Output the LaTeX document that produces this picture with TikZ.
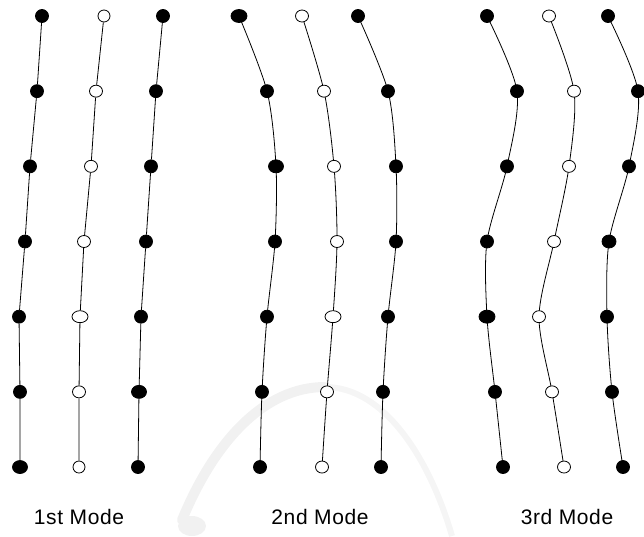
\documentclass[tikz,border=0pt]{standalone}
\usepackage{fontspec}
\setmainfont{Liberation Sans}
\usetikzlibrary{shapes.geometric,backgrounds}
\tikzset{
    mass/.style = {draw, ellipse, inner sep=0pt,
        minimum height=13pt, line width=0.8pt},
    massfill/.style = {mass, fill=black},
    massopen/.style = {mass, fill=white, minimum height=12pt},
    beam/.style = {line width=0.8pt},
    modetext/.style = {font=\fontsize{21}{25}\selectfont\addfontfeature{LetterSpace=3}},
}
% one column of seven masses: name, style, list of x/width
\newcommand\masscol[3]{%
    \foreach \x/\w [count=\i] in {#3}
        \node (#1\i) [#2, minimum width=\w pt] at (\x,{16+75.17*(\i-1)}) {};
}

\begin{document}
\begin{tikzpicture}[x=1pt, y=-1pt]
    \useasboundingbox (0,0) rectangle (644,536);

    % 1st mode
    \masscol{fL}{massfill}{42/13, 37/13, 30/13, 25/13, 19/13, 20/13, 20/15}
    \masscol{fM}{massopen}{104/12, 96/13, 91/13, 84/13, 80/16, 79/13, 79/12}
    \masscol{fR}{massfill}{163/13, 156/13, 151/13, 146/13, 141/13, 139/15, 138/13}

    % 2nd mode
    \masscol{sL}{massfill}{239/16, 267/13, 276/15, 275/13, 267/13, 262/13, 260/13}
    \masscol{sM}{massopen}{302/13, 324/13, 334/13, 337/13, 333/16, 327/13, 322/13}
    \masscol{sR}{massfill}{358/13, 388/13, 396/13, 396/13, 388/13, 383/13, 381/13}

    % 3rd mode
    \masscol{tL}{massfill}{487/13, 517/13, 507/13, 487/13, 487/16, 495/13, 503/13}
    \masscol{tM}{massopen}{549/13, 574/13, 569/13, 554/13, 539/13, 552/13, 564/13}
    \masscol{tR}{massfill}{608/13, 638/13, 629/13, 609/14, 607/13, 612/13, 623/13}

    % mode names
    \node (first) [modetext] at (79,517) {1st Mode};
    \node (second) [modetext] at (320,517) {2nd Mode};
    \node (third) [modetext] at (567,517) {3rd Mode};

    \begin{pgfonlayer}{background}
        % faint arc behind the drawing
        \draw [gray!11, line width=10pt, line cap=round]
            (182,520) .. controls (215,440) and (265,387) .. (325,387);
        \draw [gray!8, line width=6pt]
            (325,387) .. controls (385,387) and (430,460) .. (452,536);
        \fill [gray!11] (192,526) ellipse (14pt and 10pt);

        % deformed columns
        \draw [beam] (fL1) -- (fL2) -- (fL3) -- (fL4) -- (fL5) -- (fL6) -- (fL7);
        \draw [beam] (fM1) -- (fM2) -- (fM3) -- (fM4) -- (fM5) -- (fM6) -- (fM7);
        \draw [beam] (fR1) -- (fR2) -- (fR3) -- (fR4) -- (fR5) -- (fR6) -- (fR7);
        \draw [beam] plot [smooth] coordinates {(sL1) (sL2) (sL3) (sL4) (sL5) (sL6) (sL7)};
        \draw [beam] plot [smooth] coordinates {(sM1) (sM2) (sM3) (sM4) (sM5) (sM6) (sM7)};
        \draw [beam] plot [smooth] coordinates {(sR1) (sR2) (sR3) (sR4) (sR5) (sR6) (sR7)};
        \draw [beam] plot [smooth] coordinates {(tL1) (tL2) (tL3) (tL4) (tL5) (tL6) (tL7)};
        \draw [beam] plot [smooth] coordinates {(tM1) (tM2) (tM3) (tM4) (tM5) (tM6) (tM7)};
        \draw [beam] plot [smooth] coordinates {(tR1) (tR2) (tR3) (tR4) (tR5) (tR6) (tR7)};
    \end{pgfonlayer}
\end{tikzpicture}
\end{document}
